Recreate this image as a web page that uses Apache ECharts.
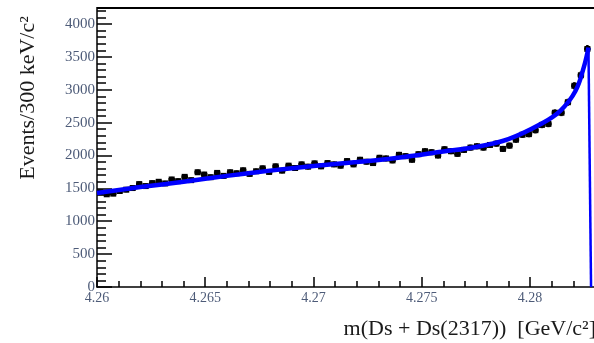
<!DOCTYPE html>
<html>
<head>
<meta charset="utf-8">
<script src="https://cdn.jsdelivr.net/npm/echarts@6/dist/echarts.min.js"></script>
<style>
html,body{margin:0;padding:0;background:#fff;overflow:hidden;}
#chart{width:594px;height:343px;}
</style>
</head>
<body>
<div id="chart"></div>
<script>
// Histogram: 300 keV bins starting at 4.26 GeV
const binLow = 4.26;
const binWidth = 0.0003;
const counts = [
  1440, 1410, 1420, 1460, 1480, 1505, 1565, 1535, 1580, 1600,
  1575, 1635, 1610, 1675, 1625, 1745, 1710, 1670, 1735, 1690,
  1745, 1730, 1775, 1720, 1760, 1805, 1750, 1835, 1770, 1845,
  1810, 1865, 1830, 1880, 1835, 1885, 1865, 1845, 1915, 1865,
  1935, 1905, 1885, 1965, 1955, 1925, 2010, 1990, 1935, 2020,
  2065, 2050, 2000, 2095, 2065, 2025, 2085, 2120, 2140, 2120,
  2160, 2180, 2100, 2150, 2240, 2315, 2325, 2385, 2465, 2480,
  2650, 2650, 2810, 3060, 3220, 3620
];
// Fit curve
const fitX = [4.2600, 4.2620, 4.2640, 4.2660, 4.2680, 4.2700, 4.2720, 4.2740, 4.2760, 4.2775, 4.2790, 4.2805, 4.2814, 4.2821, 4.2825, 4.2827];
const fitY = [1430, 1520, 1600, 1690, 1770, 1840, 1900, 1970, 2060, 2130, 2250, 2480, 2680, 2980, 3360, 3640];
// Threshold drop of the fit
const dropX = [4.2827, 4.28282];
const dropY = [3640, 0];

// Axis scales (the frame is cut by the picture at x≈4.2829 and the top border sits at y=4243)
const xMin = 4.26, xMax = 4.285, xMajor = 0.005;
const yMin = 0, yMax = 4500, yMajor = 500, yFrameTop = 4243;
const yTitle = 'Events/300 keV/c²';
const xTitle = 'm(Ds + Ds(2317))  [GeV/c²]';

const points = counts.map((c, i) => [binLow + binWidth * (i + 0.5), c]);
const fitData = fitX.map((x, i) => [x, fitY[i]]);
const dropData = dropX.map((x, i) => [x, dropY[i]]);

const labelColor = '#4d5b78';
const labelFont = 'Liberation Serif';

const chart = echarts.init(document.getElementById('chart'), null, {renderer: 'canvas'});
chart.setOption({
  animation: false,
  backgroundColor: '#fff',
  grid: {
    left: 97, top: -8.9, right: -44.25, bottom: 56,
    outerBoundsMode: 'none', containLabel: false, show: false
  },
  xAxis: {
    type: 'value', min: xMin, max: xMax, interval: xMajor,
    axisLine: {show: true, onZero: false, lineStyle: {color: '#000', width: 1.5}},
    axisTick: {show: true, inside: true, length: 10, lineStyle: {color: '#000', width: 1.5}},
    minorTick: {show: true, splitNumber: 5, length: 6, lineStyle: {color: '#000', width: 1.5}},
    axisLabel: {
      show: true, showMaxLabel: false, margin: 4, color: labelColor,
      fontFamily: labelFont, fontSize: 14,
      formatter: v => String(+v.toFixed(3))
    },
    splitLine: {show: false},
    minorSplitLine: {show: false}
  },
  yAxis: {
    type: 'value', min: yMin, max: yMax, interval: yMajor,
    axisLine: {show: true, onZero: false, lineStyle: {color: '#000', width: 1.5}},
    axisTick: {show: true, inside: true, length: 15, lineStyle: {color: '#000', width: 1.5}},
    minorTick: {show: true, splitNumber: 5, length: 9, lineStyle: {color: '#000', width: 1.5}},
    axisLabel: {
      show: true, showMaxLabel: false, margin: 2, color: labelColor,
      fontFamily: labelFont, fontSize: 15,
      formatter: v => String(Math.round(v))
    },
    splitLine: {show: false},
    minorSplitLine: {show: false}
  },
  series: [
    {
      type: 'custom', z: 2,
      data: points,
      renderItem: function (params, api) {
        const x = api.value(0), y = api.value(1);
        const c = api.coord([x, y]);
        const l = api.coord([x - binWidth / 2, y]);
        const r = api.coord([x + binWidth / 2, y]);
        const e = Math.sqrt(y);
        const t = api.coord([x, y + e]);
        const b = api.coord([x, y - e]);
        return {
          type: 'group',
          children: [
            {type: 'line', shape: {x1: l[0], y1: c[1], x2: r[0], y2: c[1]}, style: {stroke: '#000', lineWidth: 3}},
            {type: 'line', shape: {x1: c[0], y1: t[1], x2: c[0], y2: b[1]}, style: {stroke: '#000', lineWidth: 2.5}},
            {type: 'rect', shape: {x: c[0] - 3, y: c[1] - 3, width: 6, height: 6}, style: {fill: '#000'}}
          ]
        };
      }
    },
    {
      type: 'line', z: 3,
      data: fitData, smooth: 0.4, showSymbol: false, symbol: 'none',
      lineStyle: {color: '#0000ff', width: 4.5},
      markLine: {
        silent: true, symbol: ['none', 'none'], label: {show: false},
        lineStyle: {color: '#000', width: 2, type: 'solid'},
        data: [{yAxis: yFrameTop}]
      }
    },
    {
      type: 'line', z: 3,
      data: dropData, smooth: false, showSymbol: false, symbol: 'none',
      lineStyle: {color: '#0000ff', width: 2.5}
    }
  ],
  graphic: [
    {
      type: 'rect', left: 0, top: 0, z: 100, silent: true,
      shape: {width: 594, height: 7}, style: {fill: '#fff'}
    },
    {
      type: 'text', x: 28, y: 98, rotation: Math.PI / 2, z: 101,
      style: {text: yTitle, fontFamily: 'Liberation Serif', fontSize: 22, fill: '#1a1a1a', align: 'center', verticalAlign: 'middle'}
    },
    {
      type: 'text', x: 596, y: 329,
      style: {text: xTitle, fontFamily: 'Liberation Serif', fontSize: 22, fill: '#1a1a1a', align: 'right', verticalAlign: 'middle'}
    }
  ]
});
</script>
</body>
</html>
